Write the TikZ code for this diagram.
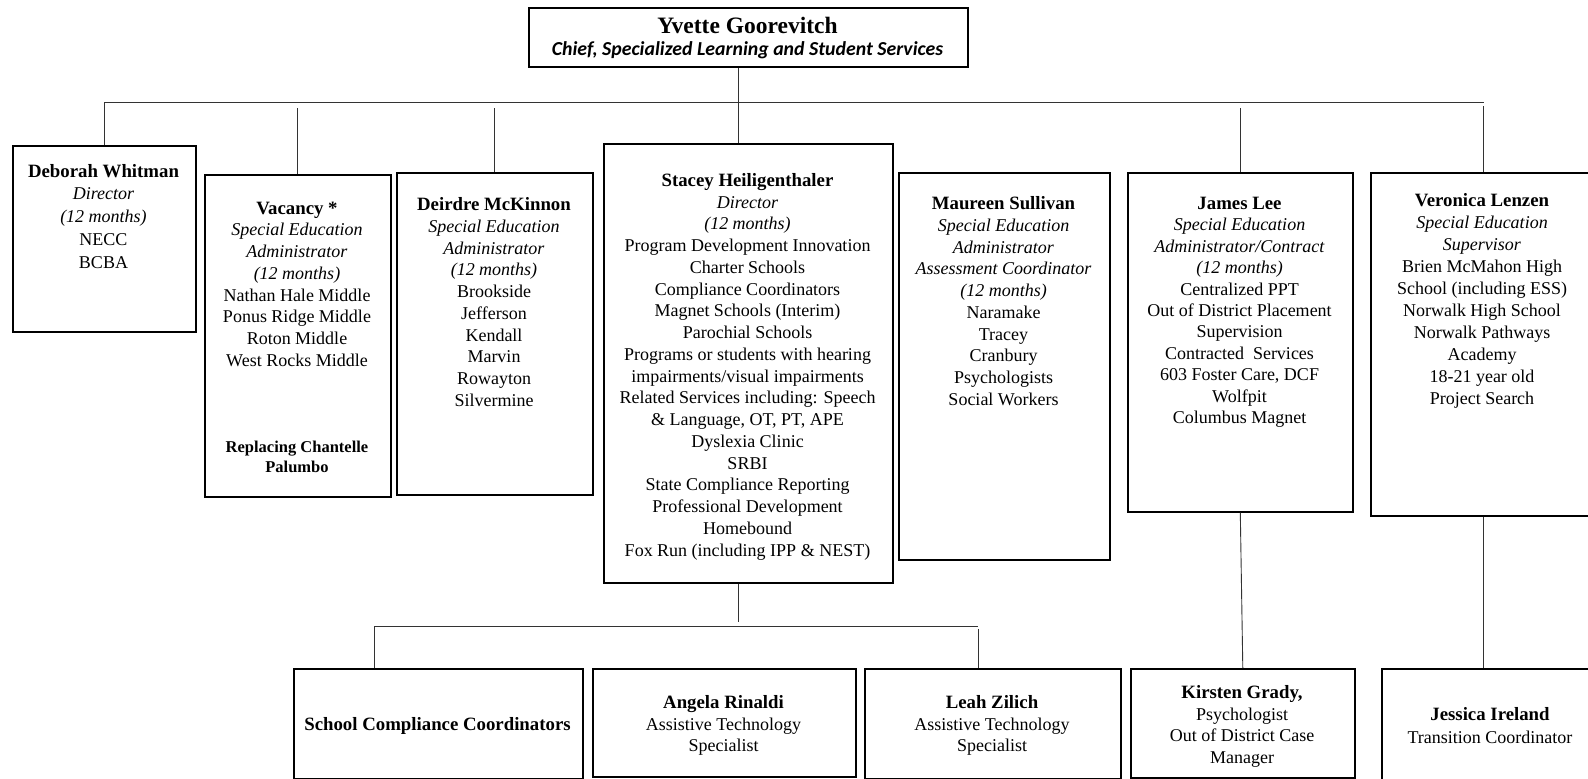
\documentclass[tikz,border=0pt]{standalone}
\usepackage{fontspec}
\setmainfont{Liberation Serif}
\newfontfamily\calib{Carlito}
\usetikzlibrary{calc}
\newcommand{\nm}[1]{{\fontsize{18.8}{21.75}\selectfont\bfseries #1}}
\begin{document}
\begin{tikzpicture}[x=1pt,y=-1pt,
  box/.style={draw=black, line width=1.6pt, anchor=north west, inner sep=0pt},
  txt/.style={anchor=north, align=center, inner sep=0pt, font=\fontsize{18}{21.75}\selectfont},
  conn/.style={draw=black!80, line width=0.9pt}]
\fill[white] (0,0) rectangle (1588,779);
\useasboundingbox (0,0) rectangle (1588,779);
% boxes
\node[box, minimum width=439pt, minimum height=59pt] (top) at (528,7) {};
\node[box, minimum width=183pt, minimum height=186pt] (deb) at (12,145) {};
\node[box, minimum width=186pt, minimum height=322pt] (vac) at (204,174) {};
\node[box, minimum width=196pt, minimum height=322pt] (dei) at (396,172) {};
\node[box, minimum width=289pt, minimum height=439pt] (sta) at (603,143) {};
\node[box, minimum width=211pt, minimum height=387pt] (mau) at (898,172) {};
\node[box, minimum width=225pt, minimum height=339pt] (jam) at (1127,172) {};
\node[box, minimum width=226pt, minimum height=343pt] (ver) at (1370,172) {};
\node[box, minimum width=289pt, minimum height=110pt] (scc) at (293,668) {};
\node[box, minimum width=263pt, minimum height=108pt] (ang) at (592,668) {};
\node[box, minimum width=256pt, minimum height=110pt] (lea) at (864,668) {};
\node[box, minimum width=224pt, minimum height=109pt] (kir) at (1130,668) {};
\node[box, minimum width=218pt, minimum height=140pt] (jes) at (1381,668) {};
% texts
\node[anchor=base, inner sep=0pt, font=\fontsize{23.5}{26}\selectfont\bfseries] (topn) at (747.5,33) {Yvette Goorevitch};
\node[anchor=base, inner sep=0pt, font=\fontsize{19.8}{22}\selectfont\calib\bfseries\itshape] (topt) at (747.5,55) {Chief, Specialized Learning and Student Services};
\node[txt, font=\fontsize{18}{22.75}\selectfont] (debt) at (103.5,164) {\nm{Deborah Whitman}\\\textit{Director}\\\textit{(12 months)}\\NECC\\BCBA};
\node[txt] (vact) at (297,201.5) {\nm{Vacancy *}\\\textit{Special Education}\\\textit{Administrator}\\\textit{(12 months)}\\Nathan Hale Middle\\Ponus Ridge Middle\\Roton Middle\\West Rocks Middle};
\node[txt, font=\fontsize{16.5}{20}\selectfont\bfseries] (vacr) at (297,441) {Replacing Chantelle\\Palumbo};
\node[txt] (deit) at (494,197.5) {\nm{Deirdre McKinnon}\\\textit{Special Education}\\\textit{Administrator}\\\textit{(12 months)}\\Brookside\\Jefferson\\Kendall\\Marvin\\Rowayton\\Silvermine};
\node[txt] (stat) at (747.5,173) {\nm{Stacey Heiligenthaler}\\\textit{Director}\\\textit{(12 months)}\\Program Development Innovation\\Charter Schools\\Compliance Coordinators\\Magnet Schools (Interim)\\Parochial Schools\\Programs or students with hearing\\impairments/visual impairments\\Related Services including: Speech\\\& Language, OT, PT, APE\\Dyslexia Clinic\\SRBI\\State Compliance Reporting\\Professional Development\\Homebound\\Fox Run (including IPP \& NEST)};
\node[txt] (maut) at (1003.5,196.5) {\nm{Maureen Sullivan}\\\textit{Special Education}\\\textit{Administrator}\\\textit{Assessment Coordinator}\\\textit{(12 months)}\\Naramake\\Tracey\\Cranbury\\Psychologists\\Social Workers};
\node[txt, font=\fontsize{18}{21.4}\selectfont] (jamt) at (1239.5,197) {\nm{James Lee}\\\textit{Special Education}\\\textit{Administrator/Contract}\\\textit{(12 months)}\\Centralized PPT\\Out of District Placement\\Supervision\\Contracted\ \ Services\\603 Foster Care, DCF\\Wolfpit\\Columbus Magnet};
\node[txt, font=\fontsize{18}{22}\selectfont] (vert) at (1482,193.5) {\nm{Veronica Lenzen}\\\textit{Special Education}\\\textit{Supervisor}\\Brien McMahon High\\School (including ESS)\\Norwalk High School\\Norwalk Pathways\\Academy\\18-21 year old\\Project Search};
\node[txt] (scct) at (437.5,717) {\nm{School Compliance Coordinators}};
\node[txt] (angt) at (723.5,695) {\nm{Angela Rinaldi}\\Assistive Technology\\Specialist};
\node[txt] (leat) at (992,695) {\nm{Leah Zilich}\\Assistive Technology\\Specialist};
\node[txt] (kirt) at (1242,685) {\nm{Kirsten Grady,}\\Psychologist\\Out of District Case\\Manager};
\node[txt, font=\fontsize{18}{23}\selectfont] (jest) at (1490,707) {\nm{Jessica Ireland}\\Transition Coordinator};
% connector coordinates
\coordinate (hl) at (104,102);
\coordinate (hr) at (1484,102);
\coordinate (t0) at (738,0);
\coordinate (gap) at (0,108);
\coordinate (vx) at (1483,106);
\coordinate (s1) at (738,622);
\coordinate (bl) at (374,626);
\coordinate (br) at (978,626);
\coordinate (brg) at (978,629);
% connectors
\draw[conn] (hl) -- (hr);
\draw[conn] (top.south -| t0) -- (sta.north -| t0);
\draw[conn] (hl) -- (hl |- deb.north);
\draw[conn] (vac.north |- gap) -- (vac.north);
\draw[conn] (dei.north |- gap) -- (dei.north);
\draw[conn] (jam.north |- gap) -- (jam.north);
\draw[conn] (vx) -- (vx |- ver.north);
\draw[conn] (jam.south) -- (kir.north);
\draw[conn] (vx |- ver.south) -- (vx |- jes.north);
\draw[conn] (sta.south -| t0) -- (s1);
\draw[conn] (bl) -- (br);
\draw[conn] (bl) -- (bl |- scc.north);
\draw[conn] (brg) -- (brg |- lea.north);
\end{tikzpicture}
\end{document}
